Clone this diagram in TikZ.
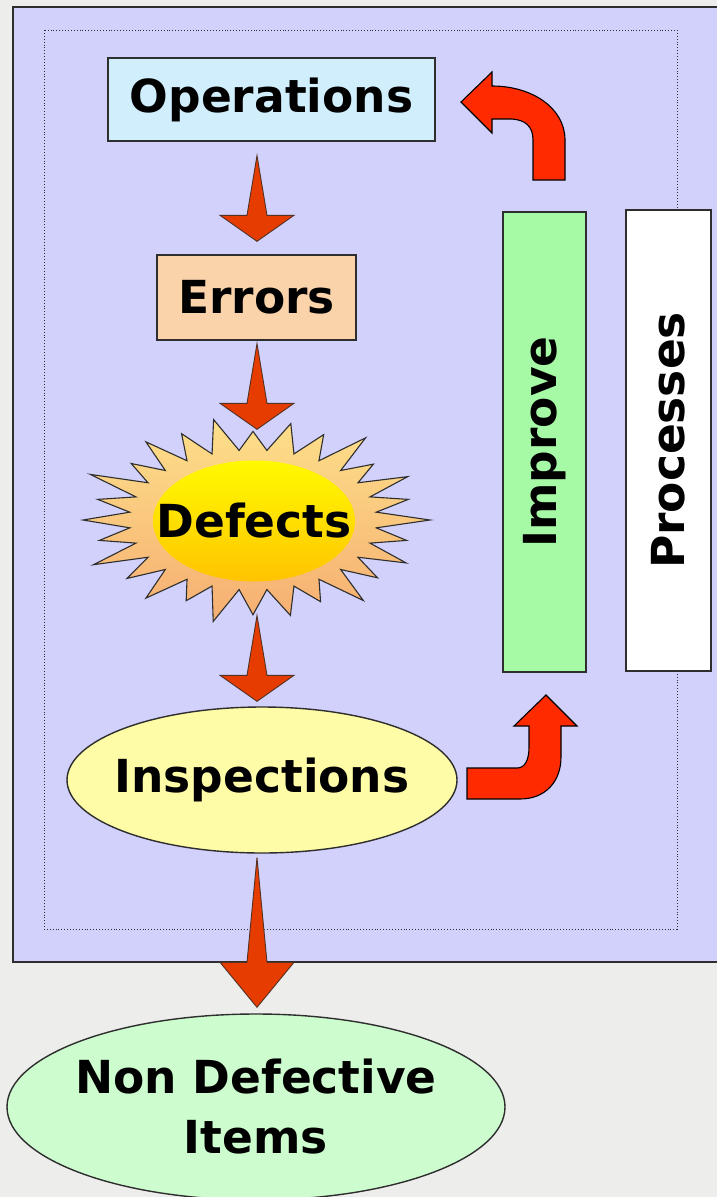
\documentclass[tikz,border=0pt]{standalone}
\usepackage{fontspec}
\newfontfamily\lblfont{DejaVu Sans}
\usetikzlibrary{calc,shapes.geometric}

\definecolor{bgcol}{HTML}{EDEDEB}
\definecolor{panelcol}{HTML}{D1D1FB}
\definecolor{edgecol}{HTML}{2E2E2E}
\definecolor{opsfill}{HTML}{D0EEFC}
\definecolor{errfill}{HTML}{FBD3AB}
\definecolor{inspfill}{HTML}{FFFCA8}
\definecolor{ndfill}{HTML}{CDFCCF}
\definecolor{impfill}{HTML}{A6FAA6}
\definecolor{downred}{HTML}{E63C00}
\definecolor{bentred}{HTML}{FF2A00}
\definecolor{burstTop}{HTML}{FDE08A}
\definecolor{burstBot}{HTML}{F6AE72}
\definecolor{coreTop}{HTML}{FFFA00}
\definecolor{coreBot}{HTML}{FFC400}

\tikzset{
  lbl/.style={font=\lblfont\bfseries\fontsize{45.5}{60}\selectfont, text=black},
  box/.style={lbl, draw=edgecol, line width=1.4pt, inner sep=0pt, rectangle},
  ellnode/.style={draw=edgecol, line width=1.4pt, inner sep=0pt, ellipse},
  dnarr/.style={fill=downred, draw=edgecol!80!downred, line width=0.9pt, line join=miter},
  bentarr/.style={fill=bentred, draw=black, line width=1.1pt, line join=miter},
}

% block arrow pointing down: #1 tail point, #2 tip, #3 head length
\newcommand\dnblock[3]{%
  \filldraw[dnarr] let \p1=(#1), \p2=(#2) in
    (\x1,\y1) -- (\x2-10pt,\y2+#3) -- (\x2-37pt,\y2+#3) -- (\x2,\y2)
    -- (\x2+37pt,\y2+#3) -- (\x2+10pt,\y2+#3) -- cycle;}

\begin{document}
\begin{tikzpicture}[x=1pt,y=-1pt]
  \useasboundingbox (0,0) rectangle (717,1197);
  \clip (0,0) rectangle (717,1197);
  \fill[bgcol] (0,0) rectangle (717,1197);

  % panel and dotted frame
  \filldraw[fill=panelcol, draw=edgecol, line width=1.4pt] (13,7) rectangle (740,962);
  \draw[edgecol, dotted, line width=0.9pt] (44,30) rectangle (677,929);

  % vertical bars
  \node[box, fill=impfill, rotate=90, minimum width=460pt, minimum height=83pt] (imp) at (544.5,442) {Improve};
  \node[box, fill=white, rotate=90, minimum width=461pt, minimum height=85pt] (proc) at (668.5,440.5) {Processes};

  % main chain
  \node[box, fill=opsfill, minimum width=327pt, minimum height=83pt] (ops) at (271.5,99.5) {Operations};
  \node[box, fill=errfill, minimum width=199pt, minimum height=85pt] (err) at (256.5,297.5) {Errors};

  % starburst behind the defects core
  \shadedraw[top color=burstTop, bottom color=burstBot, draw=edgecol, line width=1.1pt, line join=miter]
    ({253+124*cos(-6.43)},{520-70*sin(-6.43)})
    \foreach \i/\r in {0/1.00,1/0.90,2/0.97,3/0.87,4/1.02,5/0.92,6/0.96,7/0.86,8/1.00,9/0.93,10/0.97,11/0.88,12/1.02,13/0.90,
                       14/0.96,15/0.89,16/1.00,17/0.91,18/0.97,19/0.87,20/1.01,21/0.92,22/0.95,23/0.88,24/1.00,25/0.90,26/0.96,27/0.89}
    { -- ({253+177*\r*cos(\i*12.857)},{520-103*\r*sin(\i*12.857)})
      -- ({253+124*cos(\i*12.857+6.43)},{520-70*sin(\i*12.857+6.43)}) } -- cycle;
  \node[ellipse, inner sep=0pt, minimum width=202pt, minimum height=121pt,
        top color=coreTop, bottom color=coreBot] (def) at (254,521) {};
  \node[lbl] (deftxt) at (def.center) {Defects};

  \node[ellnode, fill=inspfill, minimum width=390pt, minimum height=146pt] (insp) at (262,780) {};
  \node[lbl] (insptxt) at (insp.center) {Inspections};
  \node[ellnode, fill=ndfill, minimum width=498pt, minimum height=186pt] (nd) at (256,1107) {};
  \node[lbl, align=center] (ndtxt) at (nd.center) {Non Defective\\Items};

  % straight block arrows
  \coordinate (axis) at (257,0);
  \dnblock{$(ops.south -| axis)+(0,14)$}{$(err.north -| axis)+(0,-13)$}{26pt}
  \dnblock{$(err.south -| axis)+(0,3)$}{$(def.north -| axis)+(0,-31)$}{26pt}
  \dnblock{$(def.south -| axis)+(0,34)$}{$(insp.north -| axis)+(0,-5)$}{26pt}
  \dnblock{$(insp.south -| axis)+(0,4)$}{$(nd.north -| axis)+(0,-6)$}{45pt}

  % bent arrow: inspections -> improve
  \filldraw[bentarr] (467,768) -- (517,768) .. controls (525,768) and (529,760) .. (529,747)
    -- (529,726) -- (514,726) -- (546,695) -- (577,726) -- (561,726) -- (561,757)
    .. controls (561,782) and (545,799) .. (520,799) -- (467,799) -- cycle;

  % bent arrow: improve -> operations
  \filldraw[bentarr] (565,180) -- (565,140) .. controls (565,108) and (532,86) .. (492,86)
    -- (492,72) -- (461,102) -- (492,133) -- (492,119) -- (512,119)
    .. controls (525,120) and (533,126) .. (533,140) -- (533,180) -- cycle;
\end{tikzpicture}
\end{document}
